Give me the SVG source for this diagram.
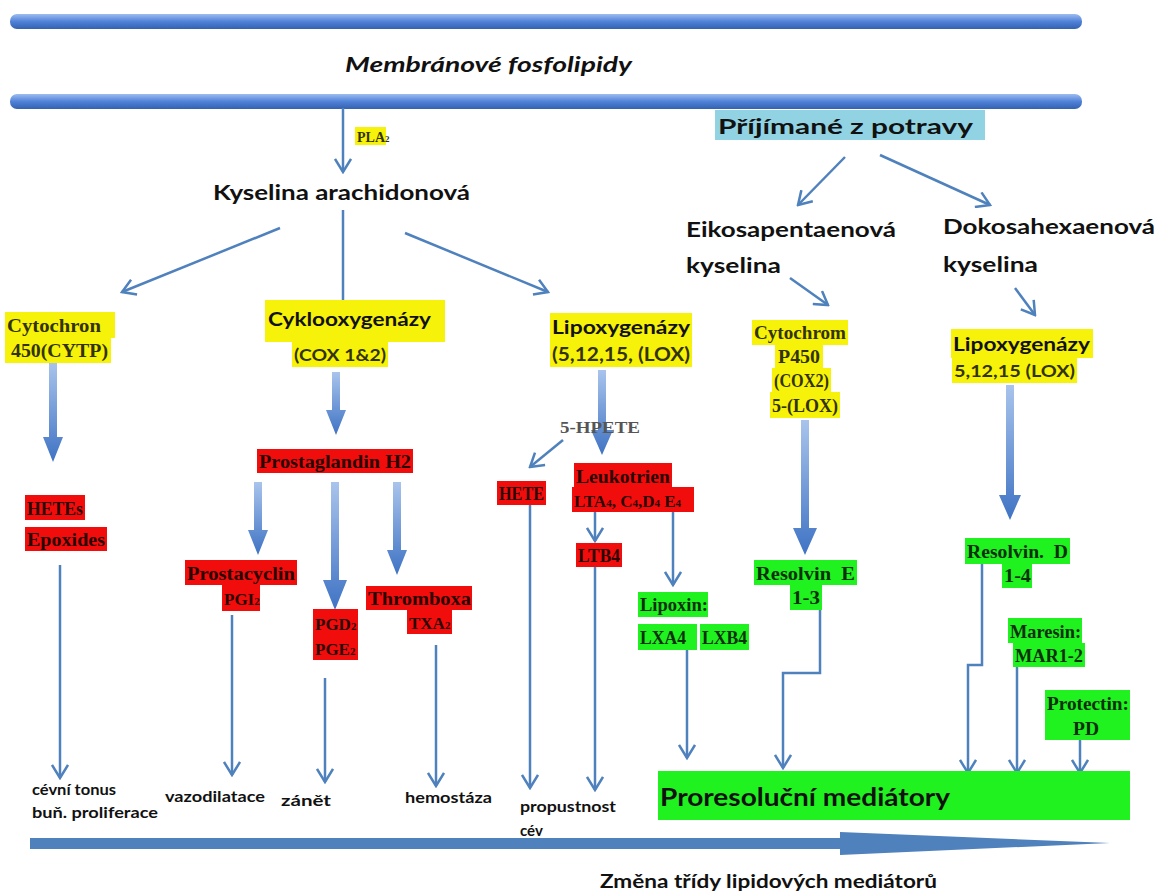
<svg xmlns="http://www.w3.org/2000/svg" width="1164" height="893" viewBox="0 0 1164 893">
<defs>
<linearGradient id="barG" x1="0" y1="0" x2="0" y2="1">
<stop offset="0" stop-color="#9dbdf0"/><stop offset="0.5" stop-color="#4f82d8"/><stop offset="1" stop-color="#3561b0"/>
</linearGradient>
<linearGradient id="thkG" x1="0" y1="0" x2="0" y2="1">
<stop offset="0" stop-color="#a9c4ec"/><stop offset="1" stop-color="#3f73c4"/>
</linearGradient>
<marker id="v" viewBox="0 0 16 18" refX="14" refY="9" markerWidth="16" markerHeight="18" markerUnits="userSpaceOnUse" orient="auto">
<path d="M1,1 L14,9 L1,17" fill="none" stroke="#4f81bd" stroke-width="2.5"/>
</marker>
</defs>
<style>
.ln{stroke:#4f81bd;stroke-width:2.5;fill:none;marker-end:url(#v)}
.lnx{stroke:#4f81bd;stroke-width:2.5;fill:none}
.thk{fill:url(#thkG)}
.ye{fill:#f7f20a}
.rd{fill:#f20d0d}
.gr{fill:#1ff21f}
.sans{font-family:Lato,"Liberation Sans",sans-serif;font-weight:bold;fill:#111}
.ser{font-family:"Liberation Serif",serif;font-weight:bold;font-size:19px}
.sub{font-size:11px}
.rt{fill:#2a0202}
.gt{fill:#0b300b}
.yt{fill:#333300}
</style>
<rect x="0" y="0" width="1164" height="893" fill="#fff"/>

<g id="membrane">
<rect x="10" y="14" width="1072" height="15" rx="7" fill="url(#barG)"/>
<rect x="10" y="94" width="1072" height="15" rx="7" fill="url(#barG)"/>
<text x="345" y="72" class="sans" font-size="20" font-style="italic" textLength="287" lengthAdjust="spacingAndGlyphs">Membránové fosfolipidy</text>
</g>

<g id="connectors">
<line x1="343" y1="108" x2="343" y2="172" class="ln"/>
<line x1="280" y1="228" x2="122" y2="292" class="ln"/>
<line x1="343" y1="210" x2="343" y2="302" class="lnx"/>
<line x1="405" y1="233" x2="548" y2="292" class="ln"/>
<line x1="845" y1="157" x2="798" y2="205" class="ln"/>
<line x1="880" y1="155" x2="990" y2="205" class="ln"/>
<line x1="790" y1="278" x2="828" y2="305" class="ln"/>
<line x1="1015" y1="288" x2="1035" y2="315" class="ln"/>
<line x1="563" y1="440" x2="530" y2="467" class="ln"/>
<line x1="595" y1="512" x2="595" y2="541" class="ln"/>
<line x1="673" y1="512" x2="673" y2="585" class="ln"/>
<line x1="60" y1="565" x2="60" y2="778" class="ln"/>
<line x1="232" y1="615" x2="232" y2="775" class="ln"/>
<line x1="325" y1="678" x2="325" y2="782" class="ln"/>
<line x1="436" y1="645" x2="436" y2="786" class="ln"/>
<line x1="530" y1="505" x2="530" y2="788" class="ln"/>
<line x1="595" y1="567" x2="595" y2="790" class="ln"/>
<line x1="687" y1="645" x2="687" y2="758" class="ln"/>
<polyline points="820,610 820,673 783,673 783,768" class="ln"/>
<polyline points="982,560 982,665 968,665 968,773" class="ln"/>
<line x1="1017" y1="645" x2="1017" y2="773" class="ln"/>
<line x1="1080" y1="710" x2="1080" y2="773" class="ln"/>
<polygon class="thk" points="49,362 57,362 57,437 63,437 53,462 43,437 49,437"/>
<polygon class="thk" points="332,372 340,372 340,410 346,410 336,435 326,410 332,410"/>
<polygon class="thk" points="254,482 262,482 262,530 268,530 258,555 248,530 254,530"/>
<polygon class="thk" points="331,482 339,482 339,580 347,580 335,610 323,580 331,580"/>
<polygon class="thk" points="393,482 401,482 401,550 407,550 397,575 387,550 393,550"/>
<polygon class="thk" points="598,370 606,370 606,430 613,430 602,455 591,430 598,430"/>
<polygon class="thk" points="801,420 809,420 809,528 817,528 805,555 793,528 801,528"/>
<polygon class="thk" points="1006,385 1014,385 1014,495 1021,495 1010,520 999,495 1006,495"/>
<polygon fill="#4f81bd" points="30,838 840,838 840,832 1110,843 840,855 840,849 30,849"/>
</g>

<g id="pla2">
<rect x="355" y="127" width="31" height="18" class="ye"/>
<text x="357" y="142" class="ser yt" style="font-size:14px">PLA<tspan style="font-size:9px">2</tspan></text>
</g>

<g id="aa">
<text x="213" y="200" class="sans" font-size="21" textLength="257" lengthAdjust="spacingAndGlyphs">Kyselina arachidonová</text>
</g>

<g id="diet">
<rect x="715" y="110" width="270" height="30" fill="#92d3e3"/>
<text x="718" y="134" class="sans" font-size="20" textLength="255" lengthAdjust="spacingAndGlyphs">Příjímané z potravy</text>
</g>

<g id="epa">
<text x="686" y="237" class="sans" font-size="20" textLength="210" lengthAdjust="spacingAndGlyphs">Eikosapentaenová</text>
<text x="686" y="273" class="sans" font-size="20" textLength="95" lengthAdjust="spacingAndGlyphs">kyselina</text>
</g>

<g id="dha">
<text x="943" y="234" class="sans" font-size="20" textLength="212" lengthAdjust="spacingAndGlyphs">Dokosahexaenová</text>
<text x="943" y="272" class="sans" font-size="20" textLength="95" lengthAdjust="spacingAndGlyphs">kyselina</text>
</g>

<g id="cyp">
<rect x="5" y="312" width="110" height="26" class="ye"/>
<rect x="5" y="338" width="106" height="25" class="ye"/>
<text x="7" y="332" class="ser yt" textLength="94" lengthAdjust="spacingAndGlyphs">Cytochron</text>
<text x="11" y="357" class="ser yt" textLength="97" lengthAdjust="spacingAndGlyphs">450(CYTP)</text>
</g>

<g id="cox">
<rect x="265" y="300" width="180" height="42" class="ye"/>
<rect x="292" y="342" width="96" height="25" class="ye"/>
<text x="268" y="326" class="sans" font-size="19" textLength="163" lengthAdjust="spacingAndGlyphs">Cyklooxygenázy</text>
<text x="294" y="361" class="sans yt" font-size="17" font-weight="normal" textLength="92" lengthAdjust="spacingAndGlyphs">(COX 1&amp;2)</text>
</g>

<g id="lox">
<rect x="550" y="313" width="142" height="28" class="ye"/>
<rect x="550" y="341" width="142" height="26" class="ye"/>
<text x="552" y="334" class="sans" font-size="19" textLength="138" lengthAdjust="spacingAndGlyphs">Lipoxygenázy</text>
<text x="552" y="361" class="sans yt" font-size="18" font-weight="normal" textLength="138" lengthAdjust="spacingAndGlyphs">(5,12,15, (LOX)</text>
</g>

<g id="epa-enz">
<rect x="752" y="320" width="96" height="25" class="ye"/>
<rect x="775" y="345" width="48" height="23" class="ye"/>
<rect x="772" y="368" width="59" height="24" class="ye"/>
<rect x="770" y="392" width="70" height="26" class="ye"/>
<text x="754" y="339" class="ser yt" textLength="92" lengthAdjust="spacingAndGlyphs">Cytochrom</text>
<text x="778" y="363" class="ser yt" textLength="42" lengthAdjust="spacingAndGlyphs">P450</text>
<text x="774" y="387" class="ser yt" textLength="55" lengthAdjust="spacingAndGlyphs">(COX2)</text>
<text x="772" y="412" class="ser yt" textLength="66" lengthAdjust="spacingAndGlyphs">5-(LOX)</text>
</g>

<g id="dha-enz">
<rect x="951" y="329" width="142" height="29" class="ye"/>
<rect x="952" y="358" width="125" height="25" class="ye"/>
<text x="953" y="351" class="sans" font-size="19" textLength="137" lengthAdjust="spacingAndGlyphs">Lipoxygenázy</text>
<text x="954" y="377" class="sans yt" font-size="17" font-weight="normal" textLength="121" lengthAdjust="spacingAndGlyphs">5,12,15 (LOX)</text>
</g>

<g id="hetes">
<rect x="25" y="495" width="60" height="25" class="rd"/>
<rect x="25" y="527" width="82" height="24" class="rd"/>
<text x="27" y="515" class="ser rt" textLength="56" lengthAdjust="spacingAndGlyphs">HETEs</text>
<text x="27" y="546" class="ser rt" textLength="78" lengthAdjust="spacingAndGlyphs">Epoxides</text>
</g>

<g id="pgh2">
<rect x="257" y="449" width="156" height="24" class="rd"/>
<text x="259" y="468" class="ser rt" textLength="152" lengthAdjust="spacingAndGlyphs">Prostaglandin H2</text>
</g>

<g id="pgi2">
<rect x="185" y="560" width="112" height="25" class="rd"/>
<rect x="222" y="585" width="38" height="26" class="rd"/>
<text x="187" y="580" class="ser rt" textLength="108" lengthAdjust="spacingAndGlyphs">Prostacyclin</text>
<text x="224" y="605" class="ser rt" style="font-size:17px">PGI<tspan class="sub">2</tspan></text>
</g>

<g id="pgd2">
<rect x="313" y="609" width="45" height="51" class="rd"/>
<text x="315" y="630" class="ser rt" style="font-size:17px">PGD<tspan class="sub">2</tspan></text>
<text x="315" y="655" class="ser rt" style="font-size:17px">PGE<tspan class="sub">2</tspan></text>
</g>

<g id="txa2">
<rect x="366" y="586" width="106" height="24" class="rd"/>
<rect x="407" y="610" width="45" height="24" class="rd"/>
<text x="368" y="605" class="ser rt" textLength="103" lengthAdjust="spacingAndGlyphs">Thromboxa</text>
<text x="409" y="629" class="ser rt" style="font-size:17px">TXA<tspan class="sub">2</tspan></text>
</g>

<g id="hpete">
<text x="560" y="433" class="ser" style="font-size:17px;fill:#555" textLength="80" lengthAdjust="spacingAndGlyphs">5-HPETE</text>
</g>

<g id="hete">
<rect x="497" y="481" width="49" height="24" class="rd"/>
<text x="499" y="500" class="ser rt" textLength="45" lengthAdjust="spacingAndGlyphs">HETE</text>
</g>

<g id="leuko">
<rect x="574" y="463" width="98" height="25" class="rd"/>
<rect x="572" y="487" width="122" height="25" class="rd"/>
<text x="576" y="483" class="ser rt" textLength="94" lengthAdjust="spacingAndGlyphs">Leukotrien</text>
<text x="574" y="507" class="ser rt" style="font-size:17px">LTA<tspan class="sub">4</tspan>, C<tspan class="sub">4</tspan>,D<tspan class="sub">4</tspan> E<tspan class="sub">4</tspan></text>
</g>

<g id="ltb4">
<rect x="576" y="543" width="46" height="24" class="rd"/>
<text x="578" y="562" class="ser rt" textLength="42" lengthAdjust="spacingAndGlyphs">LTB4</text>
</g>

<g id="lipoxins">
<rect x="638" y="592" width="70" height="25" class="gr"/>
<rect x="638" y="624" width="59" height="26" class="gr"/>
<rect x="700" y="624" width="49" height="26" class="gr"/>
<text x="640" y="611" class="ser gt" textLength="68" lengthAdjust="spacingAndGlyphs">Lipoxin:</text>
<text x="640" y="644" class="ser gt" textLength="46" lengthAdjust="spacingAndGlyphs">LXA4</text>
<text x="702" y="644" class="ser gt" textLength="45" lengthAdjust="spacingAndGlyphs">LXB4</text>
</g>

<g id="resolvinE">
<rect x="754" y="560" width="103" height="25" class="gr"/>
<rect x="790" y="585" width="32" height="25" class="gr"/>
<text x="756" y="580" class="ser gt" textLength="99" lengthAdjust="spacingAndGlyphs" xml:space="preserve">Resolvin  E</text>
<text x="792" y="604" class="ser gt" textLength="28" lengthAdjust="spacingAndGlyphs">1-3</text>
</g>

<g id="resolvinD">
<rect x="965" y="538" width="105" height="26" class="gr"/>
<rect x="1002" y="564" width="30" height="24" class="gr"/>
<text x="967" y="558" class="ser gt" textLength="101" lengthAdjust="spacingAndGlyphs" xml:space="preserve">Resolvin.  D</text>
<text x="1004" y="582" class="ser gt" textLength="27" lengthAdjust="spacingAndGlyphs">1-4</text>
</g>

<g id="maresins">
<rect x="1008" y="618" width="74" height="25" class="gr"/>
<rect x="1013" y="643" width="72" height="24" class="gr"/>
<text x="1010" y="638" class="ser gt" textLength="71" lengthAdjust="spacingAndGlyphs">Maresin:</text>
<text x="1015" y="662" class="ser gt" textLength="68" lengthAdjust="spacingAndGlyphs">MAR1-2</text>
</g>

<g id="protectins">
<rect x="1045" y="690" width="85" height="50" class="gr"/>
<text x="1047" y="710" class="ser gt" textLength="82" lengthAdjust="spacingAndGlyphs">Protectin:</text>
<text x="1073" y="735" class="ser gt" textLength="26" lengthAdjust="spacingAndGlyphs">PD</text>
</g>

<g id="proresolution">
<rect x="658" y="771" width="472" height="49" class="gr"/>
<text x="660" y="806" class="sans" font-size="24" textLength="290" lengthAdjust="spacingAndGlyphs">Proresoluční mediátory</text>
</g>

<g id="effects">
<text x="32" y="795" class="sans" font-size="15" textLength="84" lengthAdjust="spacingAndGlyphs">cévní tonus</text>
<text x="32" y="818" class="sans" font-size="15" textLength="126" lengthAdjust="spacingAndGlyphs">buň. proliferace</text>
<text x="165" y="802" class="sans" font-size="15" textLength="100" lengthAdjust="spacingAndGlyphs">vazodilatace</text>
<text x="281" y="806" class="sans" font-size="15" textLength="50" lengthAdjust="spacingAndGlyphs">zánět</text>
<text x="405" y="803" class="sans" font-size="15" textLength="87" lengthAdjust="spacingAndGlyphs">hemostáza</text>
<text x="520" y="812" class="sans" font-size="15" textLength="96" lengthAdjust="spacingAndGlyphs">propustnost</text>
<text x="520" y="836" class="sans" font-size="15">cév</text>
</g>

<g id="axis-label">
<text x="600" y="888" class="sans" font-size="19" textLength="337" lengthAdjust="spacingAndGlyphs">Změna třídy lipidových mediátorů</text>
</g>
</svg>
